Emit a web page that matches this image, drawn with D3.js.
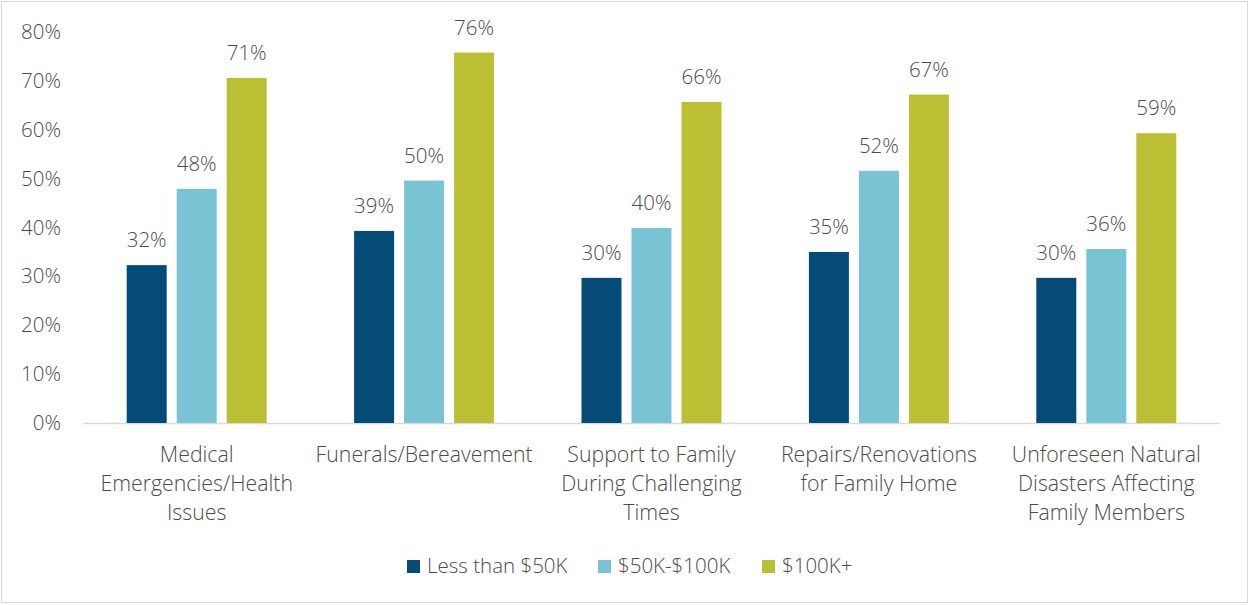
<!DOCTYPE html>
<html><head><meta charset="utf-8">
<script src="https://cdn.jsdelivr.net/npm/d3@7"></script>
<style>body{margin:0;background:#fff}svg{display:block}text{font-family:"Open Sans","Noto Sans",sans-serif;fill:#4a4a4a;font-weight:300}</style>
</head><body>
<svg id="c" width="1250" height="605"></svg>
<script>
const categories = [
  ["Medical", "Emergencies/Health", "Issues"],
  ["Funerals/Bereavement"],
  ["Support to Family", "During Challenging", "Times"],
  ["Repairs/Renovations", "for Family Home"],
  ["Unforeseen Natural", "Disasters Affecting", "Family Members"]
];
const seriesNames = ["Less than $50K", "$50K-$100K", "$100K+"];
const lessThan50K = [32.3, 39.3, 29.7, 35.0, 29.7];
const from50to100K = [47.9, 49.6, 39.9, 51.6, 35.6];
const over100K = [70.6, 75.8, 65.7, 67.2, 59.3];
const yTicks = [0, 10, 20, 30, 40, 50, 60, 70, 80];
const colors = ["#054b78", "#79c4d4", "#bbbf33"];

(function () {
const series = [lessThan50K, from50to100K, over100K];
const svg = d3.select("#c");
svg.append("rect").attr("x", 1.5).attr("y", 1.5).attr("width", 1246).attr("height", 601)
  .attr("fill", "#fff").attr("stroke", "#d9d9d9").attr("stroke-width", 1);

const pLeft = 83, pRight = 1220, pTop = 32, pBottom = 423;
const fs = 20.5;
const x = d3.scaleBand().domain(d3.range(categories.length)).range([pLeft, pRight]).padding(0);
const y = d3.scaleLinear().domain([0, 80]).range([pBottom, pTop]);
const inner = d3.scaleBand().domain(d3.range(series.length)).range([-75, 75]).paddingInner(0.2).paddingOuter(0.1);

const yAxis = d3.axisLeft(y).tickValues(yTicks).tickFormat(d => d + "%").tickSize(0).tickPadding(0);
const yg = svg.append("g").attr("transform", `translate(61,0)`).call(yAxis);
yg.select(".domain").remove();
yg.selectAll("text").attr("font-size", fs).attr("fill", "#4a4a4a").attr("font-family", '"Open Sans","Noto Sans",sans-serif');

svg.append("line").attr("x1", pLeft).attr("x2", pRight).attr("y1", pBottom + 0.5).attr("y2", pBottom + 0.5)
  .attr("stroke", "#d9d9d9").attr("stroke-width", 1.5);

series.forEach((vals, si) => {
  const g = svg.append("g");
  g.selectAll("rect").data(vals).join("rect")
    .attr("x", (d, i) => x(i) + x.bandwidth() / 2 + inner(si))
    .attr("width", inner.bandwidth())
    .attr("y", d => y(d))
    .attr("height", d => y(0) - y(d))
    .attr("fill", colors[si]);
  g.selectAll("text").data(vals).join("text")
    .attr("x", (d, i) => x(i) + x.bandwidth() / 2 + inner(si) + inner.bandwidth() / 2)
    .attr("y", d => y(d) - 18)
    .attr("text-anchor", "middle").attr("font-size", fs)
    .text(d => Math.round(d) + "%");
});

categories.forEach((lines, i) => {
  const t = svg.append("text").attr("x", x(i) + x.bandwidth() / 2).attr("y", 462)
    .attr("text-anchor", "middle").attr("font-size", 21.3);
  lines.forEach((l, j) => t.append("tspan").attr("x", x(i) + x.bandwidth() / 2).attr("y", 462 + j * 29).text(l));
});

const legX = [407, 598, 762];
seriesNames.forEach((n, i) => {
  svg.append("rect").attr("x", legX[i]).attr("y", 560).attr("width", 13).attr("height", 13).attr("fill", colors[i]);
  svg.append("text").attr("x", legX[i] + 20).attr("y", 573).attr("font-size", fs).text(n);
});
})();
</script>
</body></html>
